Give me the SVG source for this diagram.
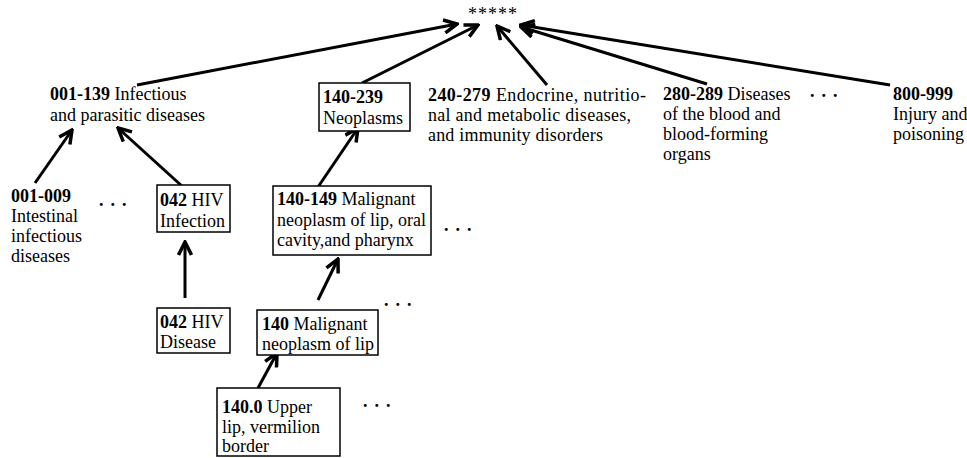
<svg xmlns="http://www.w3.org/2000/svg" width="967" height="458" viewBox="0 0 967 458">
<defs>
<style>
text{font-family:"Liberation Serif","Times New Roman",serif;font-size:18px;fill:#000}
.b{font-weight:bold}
.box{fill:#fff;stroke:#000;stroke-width:1.5}
.arr{stroke:#000;stroke-width:3;fill:none;marker-end:url(#ah)}
.dots{font-weight:bold;letter-spacing:7px}
</style>
<marker id="ah" viewBox="-15 -8 17 16" refX="0" refY="0" markerWidth="17" markerHeight="16" markerUnits="userSpaceOnUse" orient="auto">
<path d="M-13,-6.5 L0,0 L-13,6.5" fill="none" stroke="#000" stroke-width="3.5"/>
</marker>
</defs>
<rect width="967" height="458" fill="#fff"/>

<g id="connectors">
<line class="arr" x1="137" y1="85" x2="457" y2="24"/>
<line class="arr" x1="362" y1="83" x2="478" y2="25"/>
<line class="arr" x1="547" y1="85" x2="497" y2="26"/>
<line class="arr" x1="707" y1="84" x2="521" y2="27"/>
<line class="arr" x1="890" y1="85" x2="521" y2="25"/>
<line class="arr" x1="35" y1="183" x2="72" y2="130"/>
<line class="arr" x1="183" y1="187" x2="118" y2="128"/>
<line class="arr" x1="185" y1="298" x2="185" y2="242"/>
<line class="arr" x1="318" y1="187" x2="358" y2="128"/>
<line class="arr" x1="318" y1="300" x2="338" y2="259"/>
<line class="arr" x1="258" y1="388" x2="277" y2="353"/>
</g>

<g id="root"><text x="468" y="20" letter-spacing="1">*****</text></g>

<g id="n001-139"><text x="50" y="100"><tspan class="b">001-139</tspan> Infectious</text><text x="50" y="121">and parasitic diseases</text></g>

<g id="n140-239"><rect class="box" x="319" y="83" width="91" height="48"/><text x="323" y="103" class="b">140-239</text><text x="323" y="124">Neoplasms</text></g>

<g id="n240-279"><text x="428" y="101" textLength="218" lengthAdjust="spacing"><tspan class="b">240-279</tspan> Endocrine, nutritio-</text><text x="428" y="121" textLength="203" lengthAdjust="spacing">nal and metabolic diseases,</text><text x="428" y="141" textLength="175" lengthAdjust="spacing">and immunity disorders</text></g>

<g id="n280-289"><text x="663" y="100"><tspan class="b">280-289</tspan> Diseases</text><text x="663" y="120">of the blood and</text><text x="663" y="140">blood-forming</text><text x="663" y="160">organs</text></g>

<g id="n800-999"><text x="893" y="100" class="b">800-999</text><text x="893" y="120">Injury and</text><text x="893" y="140">poisoning</text></g>

<g id="n001-009"><text x="11" y="202" class="b">001-009</text><text x="11" y="222">Intestinal</text><text x="11" y="242">infectious</text><text x="11" y="262">diseases</text></g>

<g id="n042-infection"><rect class="box" x="157" y="185" width="73" height="47"/><text x="160" y="206"><tspan class="b">042</tspan> HIV</text><text x="160" y="227">Infection</text></g>

<g id="n042-disease"><rect class="box" x="157" y="308" width="73" height="45"/><text x="160" y="328"><tspan class="b">042</tspan> HIV</text><text x="160" y="348">Disease</text></g>

<g id="n140-149"><rect class="box" x="273" y="186" width="158" height="69"/><text x="277" y="205"><tspan class="b">140-149</tspan> Malignant</text><text x="277" y="226">neoplasm of lip, oral</text><text x="277" y="246">cavity,and pharynx</text></g>

<g id="n140"><rect class="box" x="257" y="310" width="121" height="45"/><text x="262" y="330"><tspan class="b">140</tspan> Malignant</text><text x="262" y="350">neoplasm of lip</text></g>

<g id="n140-0"><rect class="box" x="217" y="388" width="123" height="68"/><text x="222" y="413"><tspan class="b">140.0</tspan> Upper</text><text x="222" y="433">lip, vermilion</text><text x="222" y="452">border</text></g>

<g id="ellipses">
<text class="dots" x="810" y="97">...</text>
<text class="dots" x="99" y="206">...</text>
<text class="dots" x="444" y="231">...</text>
<text class="dots" x="384" y="306">...</text>
<text class="dots" x="363" y="407">...</text>
</g>
</svg>
